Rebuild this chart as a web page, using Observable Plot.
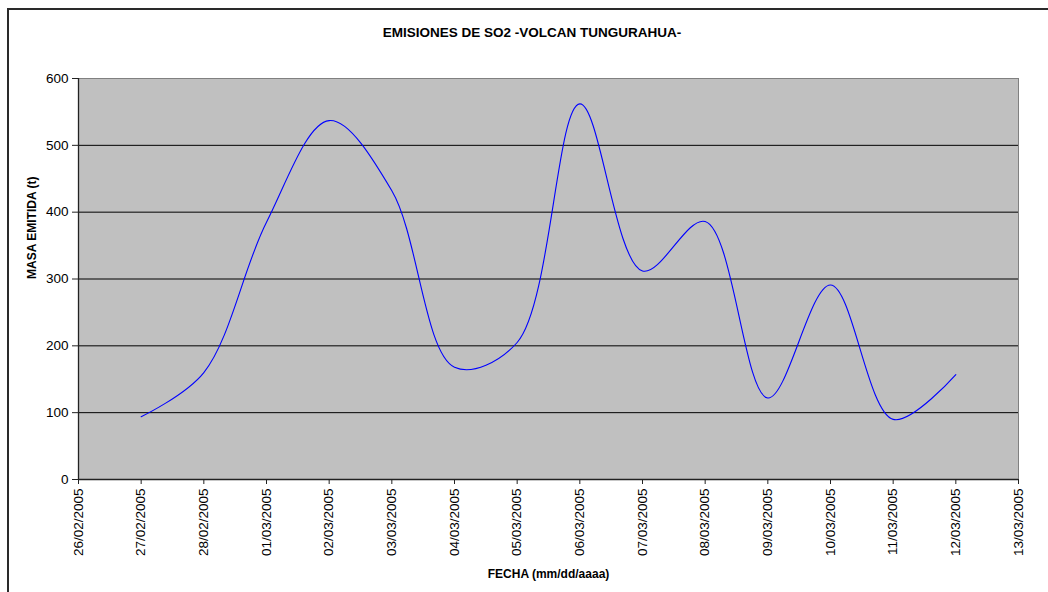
<!DOCTYPE html>
<html>
<head>
<meta charset="utf-8">
<script src="https://cdn.jsdelivr.net/npm/d3@7"></script>
<script src="https://cdn.jsdelivr.net/npm/@observablehq/plot@0.6"></script>
<style>
  html, body { margin: 0; padding: 0; background: #fff; }
  #wrap { position: relative; width: 1048px; height: 592px; overflow: hidden; font-family: "Liberation Sans", Arial, sans-serif; }
  #border { position: absolute; left: 7px; top: 8px; width: 1100px; height: 700px; border: 2px solid #2a2a2a; box-sizing: border-box; }
  #title { position: absolute; left: 0; top: 25px; width: 1064px; text-align: center; font-weight: bold; font-size: 13.5px; color: #000; }
  #chart { position: absolute; left: 0; top: 60px; }
</style>
</head>
<body>
<div id="wrap">
  <div id="border"></div>
  <div id="title">EMISIONES DE SO2 -VOLCAN TUNGURAHUA-</div>
  <div id="chart"></div>
</div>
<script>
// Data
const fechas = ["2005-02-27","2005-02-28","2005-03-01","2005-03-02","2005-03-03","2005-03-04","2005-03-05","2005-03-06","2005-03-07","2005-03-08","2005-03-09","2005-03-10","2005-03-11","2005-03-12"];
const masa = [94, 160, 385, 537, 432, 168, 205, 562, 312, 386, 122, 291, 90, 157];
const tickFechas = ["2005-02-26","2005-02-27","2005-02-28","2005-03-01","2005-03-02","2005-03-03","2005-03-04","2005-03-05","2005-03-06","2005-03-07","2005-03-08","2005-03-09","2005-03-10","2005-03-11","2005-03-12","2005-03-13"];
const yTicks = [0, 100, 200, 300, 400, 500, 600];
const gridVals = [100, 200, 300, 400, 500];
const xLabel = "FECHA (mm/dd/aaaa)";
const yLabel = "MASA EMITIDA (t)";

const parse = d3.utcParse("%Y-%m-%d");
const data = fechas.map((f, i) => ({fecha: parse(f), masa: masa[i]}));
const xTicks = tickFechas.map(parse);
const fmt = d3.utcFormat("%d/%m/%Y");

const chart = Plot.plot({
  width: 1048,
  height: 532,
  marginLeft: 78,
  marginRight: 30,
  marginTop: 18,
  marginBottom: 113,
  style: {fontFamily: "'Liberation Sans', Arial, sans-serif", color: "#000", background: "transparent"},
  x: {type: "utc", domain: [xTicks[0], xTicks[xTicks.length - 1]]},
  y: {domain: [0, 600]},
  marks: [
    Plot.frame({fill: "#c0c0c0", stroke: "#808080"}),
    Plot.ruleY(gridVals, {stroke: "#000", strokeWidth: 1}),
    Plot.line(data, {x: "fecha", y: "masa", stroke: "#0000ff", strokeWidth: 1.1, curve: "catmull-rom"}),
    Plot.ruleY([0], {stroke: "#222", strokeWidth: 1.3}),
    Plot.ruleX([xTicks[0]], {stroke: "#222", strokeWidth: 1.3}),
    Plot.axisY({ticks: yTicks, tickSize: 6, tickPadding: 4, fontSize: 13.5, label: null, stroke: "#222"}),
    Plot.axisX({ticks: xTicks, tickFormat: fmt, tickRotate: -90, tickSize: 5, tickPadding: 4, fontSize: 13.5, label: null, stroke: "#222"}),
    Plot.text([xLabel], {frameAnchor: "bottom", dy: 98, lineAnchor: "bottom", fontWeight: "bold", fontSize: 12, fill: "#000"}),
    Plot.text([yLabel], {frameAnchor: "left", dx: -46, rotate: -90, lineAnchor: "middle", fontWeight: "bold", fontSize: 12, fill: "#000"})
  ]
});
document.getElementById("chart").appendChild(chart);
</script>
</body>
</html>
